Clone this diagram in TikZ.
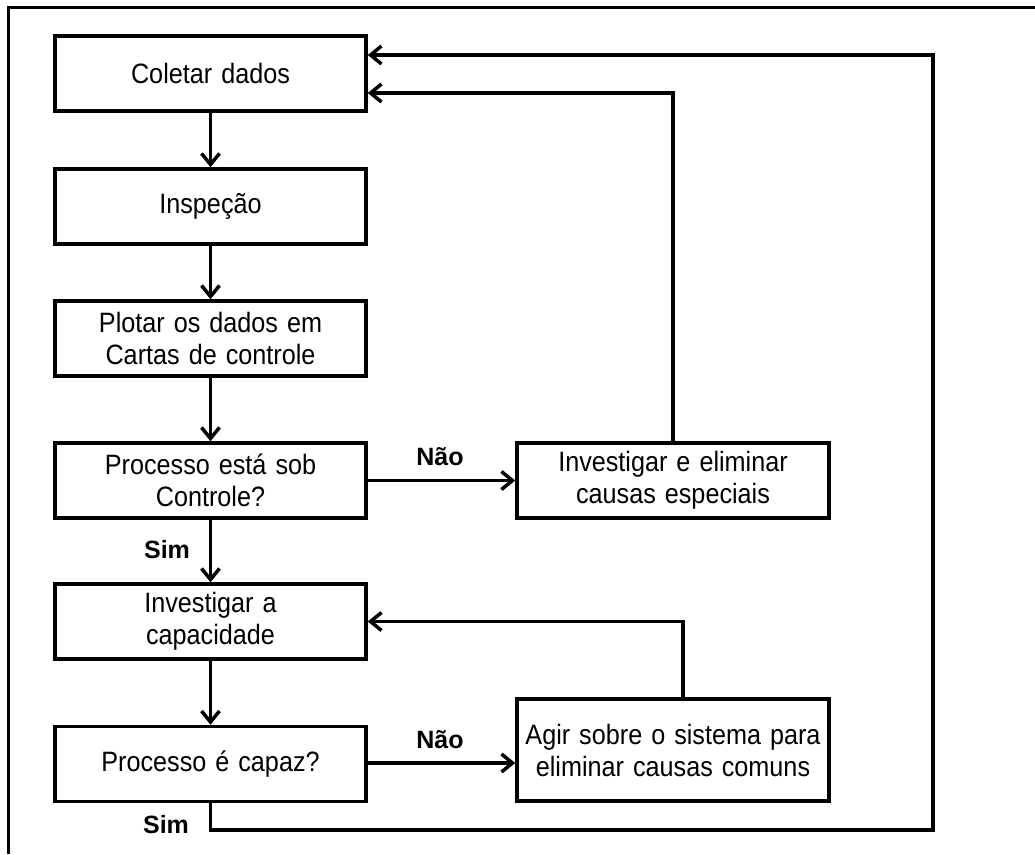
\documentclass[tikz,border=0pt]{standalone}
\usepackage{fontspec}
\setmainfont{Liberation Sans}
\newfontfamily\estreita[FakeStretch=0.9]{Liberation Sans}
\usetikzlibrary{arrows.meta}
\newcommand\fontecaixa{\estreita\fontsize{28}{32}\selectfont\spaceskip=9pt\relax}

\begin{document}
\begin{tikzpicture}[x=1pt,y=-1pt,line width=3.5pt,>={Straight Barb[length=11pt,width=18pt]}]
\tikzstyle{every node}=[inner sep=2pt, font=\fontecaixa]
\tikzstyle{caixa}=[draw, rectangle, align=center, minimum width=311pt, minimum height=75pt]
\tikzstyle{rotulo}=[font=\fontsize{25}{28}\selectfont\bfseries]
\useasboundingbox (0,0) rectangle (1035,854);
\draw[line width=3pt] (1035,7) -- (8,7) -- (8,854);
% coluna principal
\draw (210.5,73.5) node (c1) [caixa] {Coletar dados};
\draw (210.5,206.5) node (c2) [caixa] {Inspeção};
\draw (210.5,338.5) node (c3) [caixa] {Plotar os dados em\\Cartas de controle};
\draw (210.5,480.5) node (c4) [caixa] {Processo está sob\\Controle?};
\draw (210.5,621.5) node (c5) [caixa] {Investigar a\\capacidade};
\draw (210.5,764) node (c6) [caixa] {Processo é capaz?};
% caixas da direita
\draw (673,480.5) node (d1) [caixa,minimum width=312pt] {Investigar e eliminar\\causas especiais};
\draw (673,750) node (d2) [caixa,minimum width=312pt,minimum height=102pt] {Agir sobre o sistema para\\eliminar causas comuns};
% rotulos
\draw (440,457) node (n1) [rotulo] {Não};
\draw (440,740) node (n2) [rotulo] {Não};
\draw (167,550) node (s1) [rotulo] {Sim};
\draw (166,825) node (s2) [rotulo] {Sim};
\coordinate (canto) at (933,830);
\draw[->] (c1) -- (c2);
\draw[->] (c2) -- (c3);
\draw[->] (c3) -- (c4);
\draw[->] (c4) -- (c5);
\draw[->] (c5) -- (c6);
\draw[->] (c4) -- (d1);
\draw[->] (c6.east |- 0,763) -- (d2.west |- 0,763);
\draw[->] (d1.north) |- ([yshift=-19.5pt]c1.east);
\draw[->] ([xshift=10pt]d2.north) |- (c5.east);
\draw[->] (c6.south) |- (canto) |- ([yshift=18.5pt]c1.east);
\end{tikzpicture}
\end{document}
